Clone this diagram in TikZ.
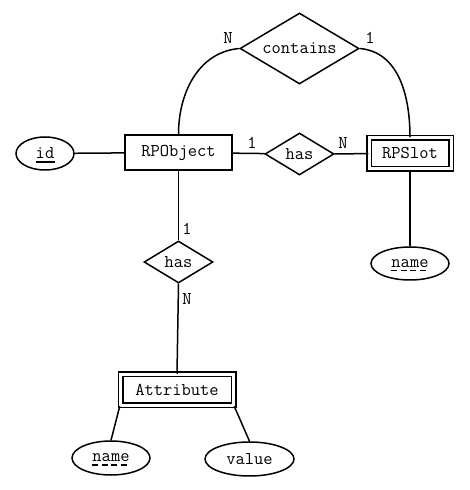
\documentclass[tikz,border=0pt]{standalone}
\usepackage{fontspec}
\usetikzlibrary{positioning, shapes.geometric}

\tikzset{
  erline/.style={line width=1.5pt},
  entity/.style={draw, erline, rectangle, minimum width=107pt, minimum height=35pt, inner sep=0pt},
  weakentity/.style={draw, erline, double, double distance=3pt, rectangle, inner sep=0pt},
  relation/.style={draw, erline, diamond, aspect=1.66, inner sep=0pt},
  attrib/.style={draw, erline, ellipse, inner sep=0pt, minimum height=33pt},
  keyline/.style={line width=1.3pt},
  partkeyline/.style={line width=1.3pt, dash pattern=on 6pt off 3.5pt},
  card/.style={inner sep=0pt}
}

\begin{document}
\begin{tikzpicture}[x=1pt, y=1pt, font=\ttfamily\fontsize{18}{20}\selectfont]
\useasboundingbox (0,0) rectangle (470,490);

%--- entities
\node[entity] (rpobject) at (178.5,337.5) {RPObject};
\node[weakentity, minimum width=82pt, minimum height=31pt] (rpslot) at (410,336.5) {RPSlot};
\node[weakentity, minimum width=113pt, minimum height=31pt] (attribute) at (177,100) {Attribute};

%--- relationships
\node[relation, minimum width=119pt, minimum height=71pt] (contains) at (299.5,441.5) {contains};
\node[relation, minimum width=69pt, minimum height=42pt] (hasslot) at (299.5,336) {has};
\node[relation, minimum width=69pt, minimum height=42pt] (hasattr) at (178.5,228) {has};

%--- attributes
\node[attrib, minimum width=58pt] (id) at (45,336.5) {id};
\node[attrib, minimum width=78pt] (slotname) at (410,226.5) {name};
\node[attrib, minimum width=78pt, minimum height=34pt] (attrname) at (111,32) {name};
\node[attrib, minimum width=89pt, minimum height=34pt] (value) at (249.5,31) {value};

% key underlines
\draw[keyline] ([xshift=-9.5pt, yshift=-3pt]id.base) -- ([xshift=9.5pt, yshift=-3pt]id.base);
\draw[partkeyline] ([xshift=-19pt, yshift=-3pt]slotname.base) -- ([xshift=19pt, yshift=-3pt]slotname.base);
\draw[partkeyline] ([xshift=-19pt, yshift=-3pt]attrname.base) -- ([xshift=19pt, yshift=-3pt]attrname.base);

%--- connectors
\draw[erline] (id) -- (rpobject);
\draw[erline] (rpobject) -- (hasslot);
\draw[erline] (hasslot) -- (rpslot);
\draw[erline] (rpobject.north) to[out=90, in=185] (contains.west);
\draw[erline] (contains.east) to[out=-5, in=90] (rpslot.north);
\draw[erline] (rpobject.south) -- (hasattr.north);
\draw[erline] (hasattr.south) -- (attribute.north);
\draw[erline] (rpslot.south) -- (slotname.north);
\draw[erline] (attribute.south west) -- (attrname.north);
\draw[erline] (attribute.south east) -- (value.north);

%--- cardinalities
\node[card] (c1) at (228,452) {N};
\node[card] (c2) at (370,452) {1};
\node[card] (c3) at (252,347) {1};
\node[card] (c4) at (343,347) {N};
\node[card] (c5) at (187,261) {1};
\node[card] (c6) at (187,191) {N};

\end{tikzpicture}
\end{document}
